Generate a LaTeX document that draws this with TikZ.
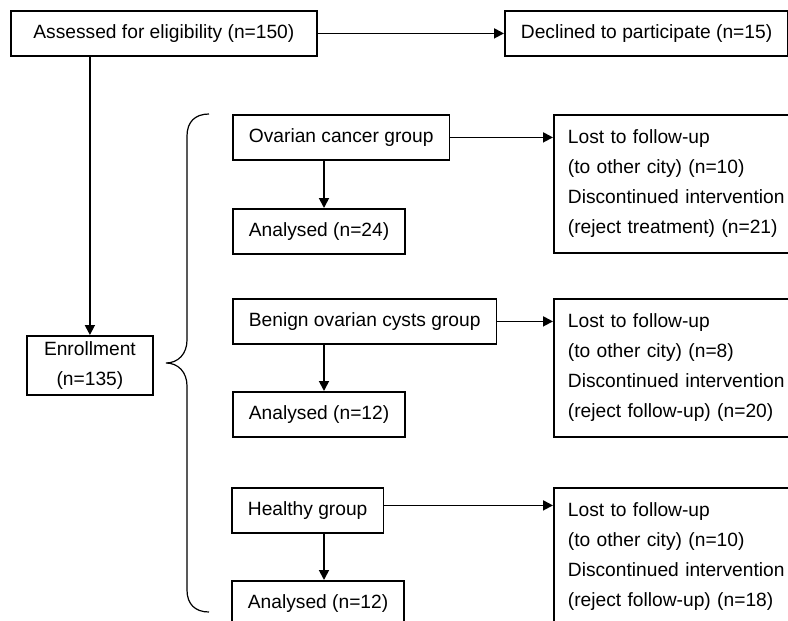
\documentclass[tikz,border=0pt]{standalone}
\usepackage{fontspec}
\setmainfont{Liberation Sans}
\usetikzlibrary{positioning,arrows.meta}

\begin{document}
\begin{tikzpicture}[x=1pt,y=-1pt,>={Triangle[length=10pt,width=10pt]},
  box/.style={draw,line width=1.8pt,inner xsep=16pt,inner ysep=0pt,minimum height=45pt,anchor=north west,font=\fontsize{19.2}{30}\selectfont},
  lostbox/.style={box,minimum height=138pt,text width=240pt,align=left,inner xsep=14pt},
  arr/.style={->,line width=1.8pt}]
\useasboundingbox (0,0) rectangle (788,621);
\clip (0,0) rectangle (788,621);

\node[box,minimum width=306pt] (assess) at (10,10) {Assessed for eligibility (n=150)};
\node[box] (decline) at (504,10) {Declined to participate (n=15)};
\node[box,align=center,minimum width=126pt,minimum height=59pt] (enroll) at (26,335) {Enrollment\\(n=135)};

\node[box] (ovar) at (232,114) {Ovarian cancer group};
\node[box] (ana1) at (232,208) {Analysed (n=24)};
\node[lostbox] (lost1) at (553,114) {Lost to follow-up\\(to other city) (n=10)\\Discontinued intervention\\(reject treatment) (n=21)};

\node[box] (benign) at (232,298) {Benign ovarian cysts group};
\node[box] (ana2) at (232,391) {Analysed (n=12)};
\node[lostbox] (lost2) at (553,298) {Lost to follow-up\\(to other city) (n=8)\\Discontinued intervention\\(reject follow-up) (n=20)};

\node[box] (healthy) at (231,487) {Healthy group};
\node[box] (ana3) at (231,580) {Analysed (n=12)};
\node[lostbox] (lost3) at (553,487) {Lost to follow-up\\(to other city) (n=10)\\Discontinued intervention\\(reject follow-up) (n=18)};

\draw[arr] (assess) -- (decline);
\draw[arr] (assess.south -| enroll.north) -- (enroll.north);

\draw[arr] (ovar) -- (ovar.east -| lost1.west);
\draw[arr] ([xshift=92pt]ana1.north west |- ovar.south) -- ([xshift=92pt]ana1.north west);
\draw[arr] (benign) -- (benign.east -| lost2.west);
\draw[arr] ([xshift=92pt]ana2.north west |- benign.south) -- ([xshift=92pt]ana2.north west);
\draw[arr] ([yshift=5pt]healthy.east) -- ([yshift=5pt]healthy.east -| lost3.west);
\draw[arr] ([xshift=93pt]ana3.north west |- healthy.south) -- ([xshift=93pt]ana3.north west);

% brace
\draw[line width=1.2pt] (209,114) .. controls (195,114) and (187,122) .. (187,136) -- (187,340)
  .. controls (187,354) and (178,363) .. (166,363) .. controls (178,363) and (187,372) .. (187,386)
  -- (187,590) .. controls (187,604) and (195,612) .. (209,612);
\end{tikzpicture}
\end{document}
